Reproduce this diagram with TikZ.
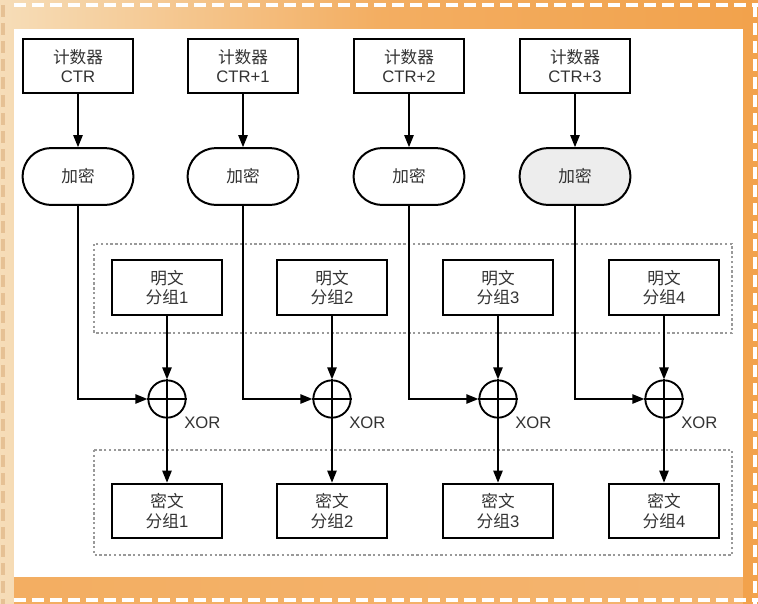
\documentclass[tikz,border=0pt]{standalone}
\usepackage{fontspec}
\setmainfont{Liberation Sans}
\newfontfamily\cjk{Noto Sans CJK SC}
\usetikzlibrary{arrows.meta,shadings}
\definecolor{txt}{HTML}{333333}
\definecolor{orgR}{HTML}{F2A24C}
\definecolor{orgL}{HTML}{F6DDB8}
\tikzset{
  box/.style={draw=black,line width=1.5pt,fill=white,minimum width=83pt,minimum height=41pt,inner sep=0pt,align=center,text=txt,font=\fontsize{12.5pt}{14.5pt}\selectfont},
  encbox/.style={box,rounded corners=21pt,minimum height=42.5pt},
  xorc/.style={draw=black,line width=1.4pt,circle,minimum size=28pt,inner sep=0pt},
  arr/.style={draw=black,line width=1.1pt,-{Triangle[length=9pt,width=7pt]}},
  grp/.style={draw=gray!80,line width=0.9pt,dash pattern=on 1.8pt off 1.8pt},
  lbl/.style={text=txt,font=\fontsize{12.5pt}{14pt}\selectfont,inner sep=0pt,anchor=west},
  wdash/.style={draw=white,line width=2.6pt,dash pattern=on 9pt off 4.5pt}
}
\begin{document}
\begin{tikzpicture}[x=0.75pt,y=-0.75pt]
\useasboundingbox (0,0) rectangle (758,604);
% frame
\shade[left color=orgL,right color=orgR,middle color=orgR!80!orgL] (0,0) rectangle (758,604);
\shade[left color=orgR!80!orgL,right color=orgR!80!white] (14,577) rectangle (758,604);
\fill[orgR] (743,0) rectangle (758,604);
\fill[white] (14,29) rectangle (743,577);
\draw[wdash] (14,5) -- (758,5);
\draw[wdash] (14,600) -- (758,600);
\draw[wdash] (755,5) -- (755,604);
\draw[draw=orgL!70!brown,line width=2.6pt,dash pattern=on 9pt off 4.5pt] (3,5) -- (3,604);
% groups
\draw[grp] (94,244) rectangle (732,333);
\draw[grp] (94,450) rectangle (732,555);
% columns
\foreach \i/\cx/\px/\lab in {1/78/167/CTR,2/243/332/CTR+1,3/409/498/CTR+2,4/575/664/CTR+3}{
  \node[box] (ctr\i) at (\cx,66) {{\cjk 计数器}\\\lab};
  \node[box] (pl\i) at (\px,287.5) {{\cjk 明文}\\{\cjk 分组}\i};
  \node[box] (ci\i) at (\px,511) {{\cjk 密文}\\{\cjk 分组}\i};
  \node[xorc] (x\i) at (\px,399) {};
  \draw[line width=1.4pt] (x\i.north) -- (x\i.south) (x\i.west) -- (x\i.east);
  \node[lbl] (xl\i) at (\px+17,423) {XOR};
}
\node[encbox] (enc1) at (78,176.5) {\cjk 加密};
\node[encbox] (enc2) at (243,176.5) {\cjk 加密};
\node[encbox] (enc3) at (409,176.5) {\cjk 加密};
\node[encbox,fill=gray!14] (enc4) at (575,176.5) {\cjk 加密};
\foreach \i in {1,2,3,4}{
  \draw[arr] (ctr\i) -- (enc\i);
  \draw[arr] (enc\i.south) |- (x\i.west);
  \draw[arr] (pl\i) -- (x\i.north);
  \draw[arr] (x\i.south) -- (ci\i.north);
}
\end{tikzpicture}
\end{document}
